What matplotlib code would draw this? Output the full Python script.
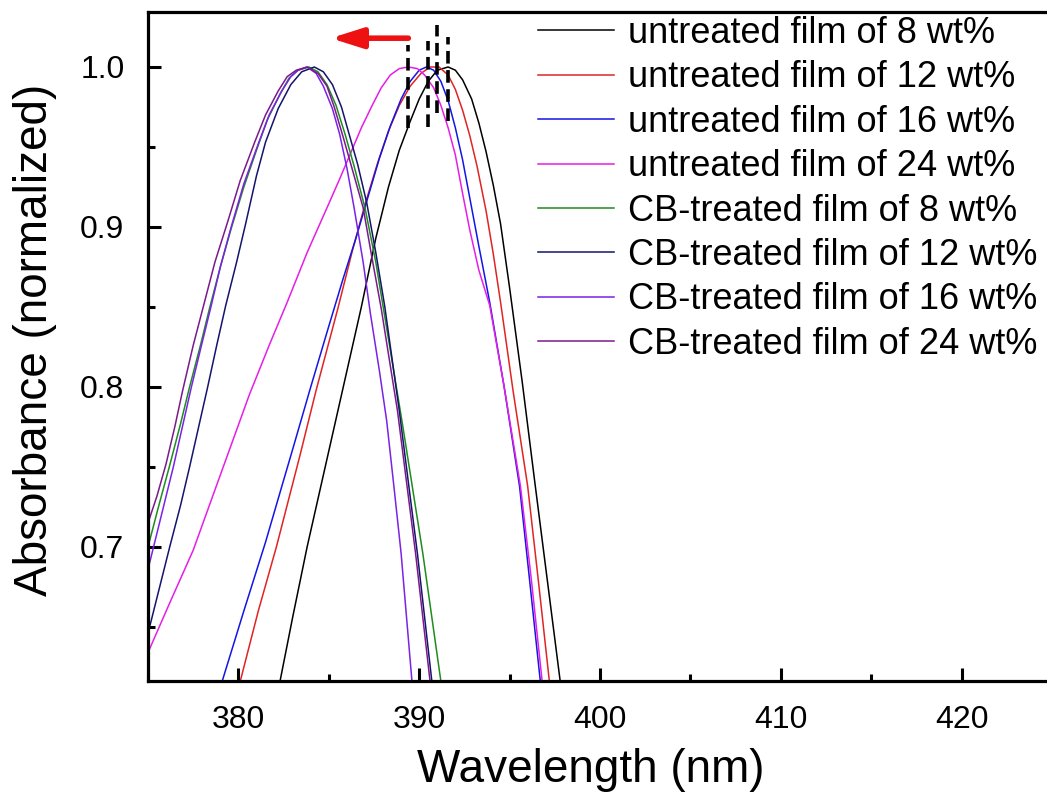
import matplotlib
matplotlib.use("Agg")
import matplotlib.pyplot as plt
from matplotlib.ticker import MultipleLocator

plt.rcParams['font.family'] = ['Liberation Sans', 'DejaVu Sans']

# ---- data ----
labels = ["untreated film of 8 wt%", "untreated film of 12 wt%", "untreated film of 16 wt%",
          "untreated film of 24 wt%", "CB-treated film of 8 wt%", "CB-treated film of 12 wt%",
          "CB-treated film of 16 wt%", "CB-treated film of 24 wt%"]
colors = ["#000000", "#E02424", "#1414E6", "#E61EE6", "#1E8C1E", "#14146E", "#7A22E6", "#7A1A8C"]

wl_u8 = [382.3, 383.0, 383.8, 384.8, 385.8, 386.8, 387.6, 388.3, 388.9, 389.5, 390.0, 390.5, 391.0, 391.6,
         392.0, 392.4, 392.9, 393.3, 393.7, 394.1, 394.5, 395.0, 395.7, 396.4, 397.1, 397.8]
ab_u8 = [0.616, 0.656, 0.700, 0.750, 0.800, 0.850, 0.893, 0.925, 0.948, 0.966, 0.980, 0.991, 0.998, 1.000,
         0.998, 0.992, 0.980, 0.965, 0.947, 0.926, 0.902, 0.862, 0.803, 0.740, 0.678, 0.616]

wl_u12 = [380.1, 381.1, 382.1, 383.4, 384.3, 385.5, 386.3, 387.0, 387.7, 388.3, 388.9, 389.5, 390.1, 390.6,
          391.1, 391.6, 392.0, 392.4, 392.8, 393.2, 393.7, 394.1, 394.5, 395.2, 396.0, 396.6, 397.2]
ab_u12 = [0.616, 0.660, 0.700, 0.757, 0.798, 0.849, 0.885, 0.914, 0.940, 0.960, 0.976, 0.988, 0.996, 1.000,
          1.000, 0.995, 0.986, 0.973, 0.957, 0.938, 0.910, 0.883, 0.853, 0.797, 0.738, 0.678, 0.616]

wl_u16 = [379.1, 380.3, 381.5, 382.3, 383.0, 384.0, 385.0, 385.8, 386.5, 387.2, 387.8, 388.4, 389.0, 389.5,
          390.0, 390.4, 390.8, 391.2, 391.6, 392.0, 392.4, 392.8, 393.3, 393.9, 394.7, 395.55, 396.1, 396.7]
ab_u16 = [0.616, 0.660, 0.703, 0.734, 0.761, 0.800, 0.838, 0.868, 0.893, 0.920, 0.943, 0.963, 0.980, 0.991,
          0.998, 1.000, 0.998, 0.991, 0.979, 0.962, 0.942, 0.918, 0.888, 0.853, 0.800, 0.738, 0.680, 0.616]

wl_u24 = [375.0, 376.2, 377.5, 379.0, 380.6, 381.7, 382.7, 383.8, 384.9, 385.6, 386.2, 386.8, 387.4, 387.9,
          388.4, 388.9, 389.4, 389.9, 390.3, 390.8, 391.2, 391.6, 392.0, 392.4, 392.8, 393.3, 393.9, 394.7,
          395.6, 396.2, 396.8]
ab_u24 = [0.634, 0.665, 0.698, 0.745, 0.795, 0.826, 0.853, 0.884, 0.912, 0.930, 0.946, 0.962, 0.976, 0.987,
          0.995, 0.999, 1.000, 0.999, 0.995, 0.987, 0.976, 0.962, 0.945, 0.921, 0.898, 0.873, 0.851, 0.800,
          0.738, 0.680, 0.616]

wl_cb8 = [375.0, 375.6, 376.2, 376.8, 377.3, 377.9, 378.4, 379.0, 379.6, 380.3, 381.0, 381.6, 382.3, 382.8,
          383.3, 383.9, 384.4, 384.9, 385.4, 385.9, 386.4, 387.0, 387.6, 388.3, 389.1, 390.2, 391.2]
ab_cb8 = [0.700, 0.726, 0.751, 0.777, 0.800, 0.826, 0.849, 0.875, 0.899, 0.925, 0.948, 0.967, 0.983, 0.993,
          0.998, 1.000, 0.997, 0.989, 0.976, 0.958, 0.938, 0.912, 0.878, 0.830, 0.775, 0.696, 0.616]

wl_cb12 = [375.0, 375.6, 376.2, 376.8, 377.3, 377.8, 378.3, 378.8, 379.3, 379.9, 380.4, 381.0, 381.5, 382.2,
           382.9, 383.5, 384.2, 384.7, 385.2, 385.7, 386.1, 386.6, 387.1, 387.6, 388.1, 388.9, 389.9, 390.7]
ab_cb12 = [0.646, 0.673, 0.700, 0.726, 0.750, 0.775, 0.800, 0.826, 0.851, 0.878, 0.902, 0.932, 0.953, 0.974,
           0.989, 0.997, 1.000, 0.997, 0.989, 0.975, 0.959, 0.939, 0.915, 0.884, 0.850, 0.785, 0.696, 0.616]

wl_cb16 = [375.0, 375.7, 376.4, 376.9, 377.4, 378.0, 378.5, 379.0, 379.6, 380.3, 381.1, 381.7, 382.4, 382.9,
           383.3, 383.8, 384.3, 384.7, 385.2, 385.6, 386.0, 386.4, 386.9, 387.3, 387.8, 388.2, 388.6, 389.0, 389.6]
ab_cb16 = [0.686, 0.718, 0.750, 0.775, 0.800, 0.828, 0.851, 0.875, 0.900, 0.927, 0.952, 0.970, 0.985, 0.994,
           0.998, 1.000, 0.996, 0.988, 0.974, 0.958, 0.937, 0.912, 0.878, 0.846, 0.810, 0.779, 0.738, 0.696, 0.616]

wl_cb24 = [375.0, 375.5, 376.0, 376.5, 376.9, 377.5, 378.1, 378.7, 379.4, 380.1, 380.9, 381.5, 382.2, 382.7,
           383.2, 383.8, 384.4, 384.9, 385.3, 385.8, 386.3, 386.9, 387.4, 387.9, 388.8, 389.8, 390.6]
ab_cb24 = [0.715, 0.732, 0.752, 0.776, 0.797, 0.826, 0.852, 0.878, 0.903, 0.929, 0.953, 0.970, 0.985, 0.994,
           0.998, 1.000, 0.996, 0.988, 0.975, 0.956, 0.936, 0.912, 0.880, 0.849, 0.785, 0.696, 0.616]

series_wl = [wl_u8, wl_u12, wl_u16, wl_u24, wl_cb8, wl_cb12, wl_cb16, wl_cb24]
series_ab = [ab_u8, ab_u12, ab_u16, ab_u24, ab_cb8, ab_cb12, ab_cb16, ab_cb24]

# dashed peak markers (x, y_low, y_high) and shift arrow (from, to, level)
peak_x = [389.4, 390.5, 391.0, 391.6]
peak_lo = [0.962, 0.9625, 0.971, 0.966]
peak_hi = [1.014, 1.016, 1.026, 1.019]
arrow_from, arrow_to, arrow_y = 389.4, 385.1, 1.018

x_ticks = [380, 390, 400, 410, 420]
y_ticks = [0.7, 0.8, 0.9, 1.0]

# ---- figure ----
fig = plt.figure(figsize=(10.47, 8.0), dpi=100)
ax = fig.add_axes([148/1047, 119/800, 904/1047, 669/800])

for wl, ab, c, lab in zip(series_wl, series_ab, colors, labels):
    ax.plot(wl, ab, color=c, lw=1.1, label=lab)

for px, lo, hi in zip(peak_x, peak_lo, peak_hi):
    ax.plot([px, px], [lo, hi], color="black", lw=2.6, ls=(0, (3.5, 1.8)))

ax.annotate("", xy=(arrow_to, arrow_y), xytext=(arrow_from, arrow_y),
            arrowprops=dict(arrowstyle="-|>,head_length=1.9,head_width=0.6",
                            color="#EE1111", lw=4, shrinkA=0, shrinkB=0))

ax.set_xlim(375, 425)
ax.set_ylim(0.61625, 1.034375)
ax.set_xticks(x_ticks)
ax.set_yticks(y_ticks)
ax.set_yticklabels([f"{v:.1f}" for v in y_ticks])
ax.xaxis.set_minor_locator(MultipleLocator(5))
ax.yaxis.set_minor_locator(MultipleLocator(0.05))
ax.tick_params(which="both", direction="in", top=False, right=False, width=2.2)
ax.tick_params(which="major", length=9.5, labelsize=23, pad=17)
ax.tick_params(which="minor", length=5)
for s in ax.spines.values():
    s.set_linewidth(2.3)

ax.set_xlabel("Wavelength (nm)", fontsize=33, labelpad=10)
ax.xaxis.label.set_x(0.49)
ax.set_ylabel("Absorbance (normalized)", fontsize=33, labelpad=17)
ax.yaxis.label.set_y(0.51)

leg = ax.legend(loc="upper left", bbox_to_anchor=(538/1047, 0.98), bbox_transform=fig.transFigure,
                frameon=False, fontsize=26, handlelength=2.1, handletextpad=0.38,
                labelspacing=0.26, borderpad=0.0, borderaxespad=0.0)

fig.savefig("out.png", dpi=100)
